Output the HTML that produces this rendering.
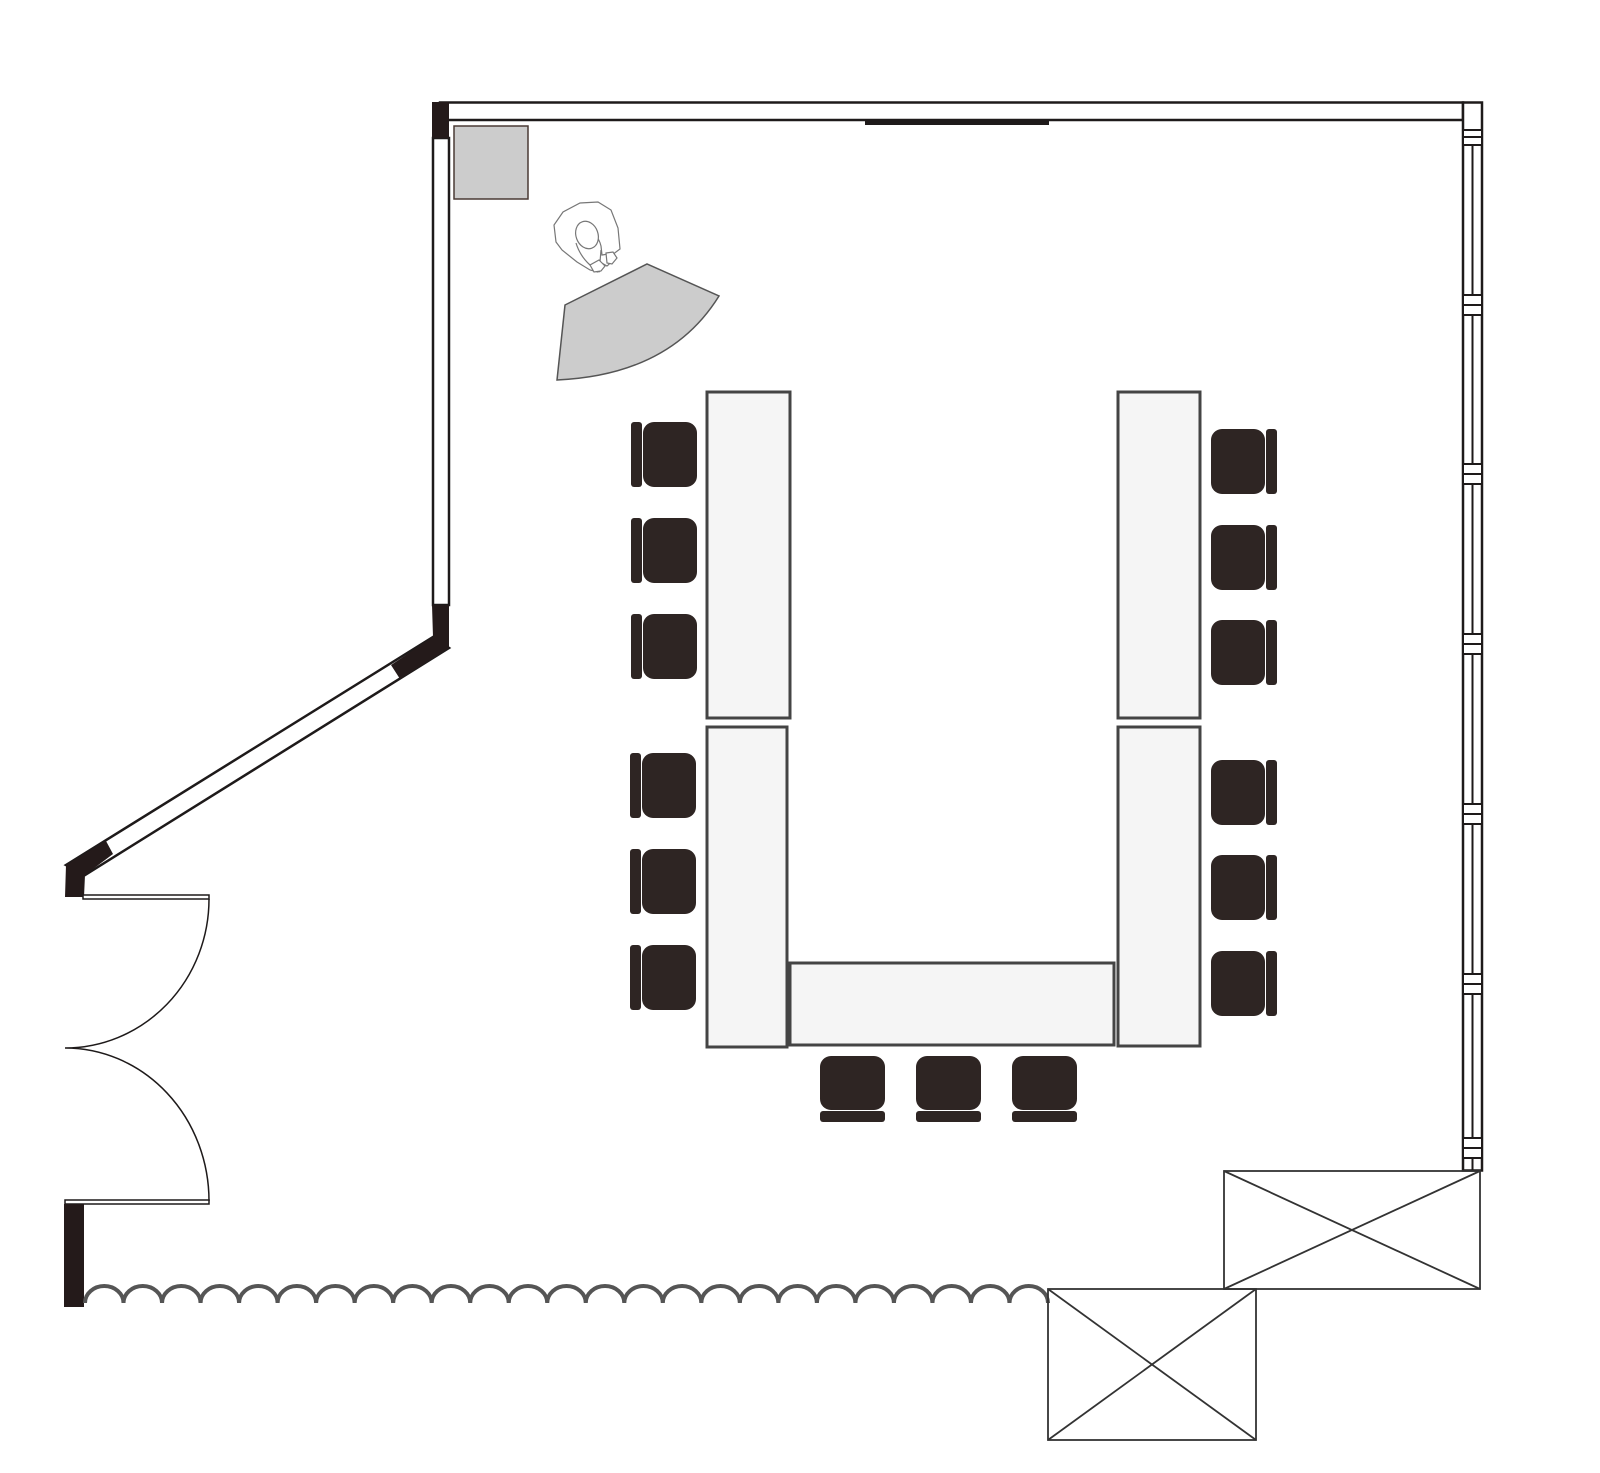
<!DOCTYPE html>
<html><head><meta charset="utf-8"><style>html,body{margin:0;padding:0;background:#fff}svg{display:block}</style></head>
<body>
<svg width="1600" height="1473" viewBox="0 0 1600 1473" xmlns="http://www.w3.org/2000/svg">
<rect width="1600" height="1473" fill="#fff"/>
<!-- top wall -->
<rect x="440" y="102.5" width="1023" height="17.5" fill="#fff" stroke="#1e1a1a" stroke-width="2.5"/>
<rect x="865" y="120" width="184" height="5" fill="#1e1a1a"/>
<!-- right wall -->
<rect x="1463" y="102.5" width="19" height="1068" fill="#fff" stroke="#1e1a1a" stroke-width="2.5"/>
<line x1="1472.5" y1="145" x2="1472.5" y2="1170" stroke="#1e1a1a" stroke-width="2"/>
<g fill="#fff" stroke="#1e1a1a" stroke-width="2">
<rect x="1463" y="130" width="19" height="7"/><rect x="1463" y="137" width="19" height="8"/>
<rect x="1463" y="295" width="19" height="10"/><rect x="1463" y="305" width="19" height="10"/>
<rect x="1463" y="464" width="19" height="10"/><rect x="1463" y="474" width="19" height="10"/>
<rect x="1463" y="634" width="19" height="10"/><rect x="1463" y="644" width="19" height="10"/>
<rect x="1463" y="804" width="19" height="10"/><rect x="1463" y="814" width="19" height="10"/>
<rect x="1463" y="974" width="19" height="10"/><rect x="1463" y="984" width="19" height="10"/>
<rect x="1463" y="1138" width="19" height="10"/><rect x="1463" y="1148" width="19" height="10"/>
</g>
<!-- left wall -->
<rect x="433" y="138" width="16" height="467" fill="#fff" stroke="#1e1a1a" stroke-width="2.5"/>
<rect x="432" y="102" width="17" height="36" fill="#241a1a"/>
<!-- diagonal wall -->
<polygon points="433,637 449,648 85,875 66,865" fill="#fff" stroke="#1e1a1a" stroke-width="2.5"/>
<polygon points="432,605 449,605 449,648 400,679 391,665 433,637" fill="#241a1a"/>
<polygon points="66,865 106,841 113,854 85,875 84,897 65,897" fill="#241a1a"/>
<!-- doors -->
<rect x="83" y="895" width="126" height="4" fill="#fff" stroke="#1e1a1a" stroke-width="1.5"/>
<path d="M209,899 A144,149 0 0 1 65,1048 A144,153 0 0 1 209,1201" fill="none" stroke="#1e1a1a" stroke-width="1.5"/>
<rect x="65" y="1200" width="144" height="4" fill="#fff" stroke="#1e1a1a" stroke-width="1.5"/>
<rect x="64" y="1204" width="20" height="103" fill="#241a1a"/>
<!-- curtain -->
<path fill="none" stroke="#555" stroke-width="4" d="M85,1303
a19.26,17 0 0 1 38.52,0 a19.26,17 0 0 1 38.52,0 a19.26,17 0 0 1 38.52,0 a19.26,17 0 0 1 38.52,0 a19.26,17 0 0 1 38.52,0
a19.26,17 0 0 1 38.52,0 a19.26,17 0 0 1 38.52,0 a19.26,17 0 0 1 38.52,0 a19.26,17 0 0 1 38.52,0 a19.26,17 0 0 1 38.52,0
a19.26,17 0 0 1 38.52,0 a19.26,17 0 0 1 38.52,0 a19.26,17 0 0 1 38.52,0 a19.26,17 0 0 1 38.52,0 a19.26,17 0 0 1 38.52,0
a19.26,17 0 0 1 38.52,0 a19.26,17 0 0 1 38.52,0 a19.26,17 0 0 1 38.52,0 a19.26,17 0 0 1 38.52,0 a19.26,17 0 0 1 38.52,0
a19.26,17 0 0 1 38.52,0 a19.26,17 0 0 1 38.52,0 a19.26,17 0 0 1 38.52,0 a19.26,17 0 0 1 38.52,0 a19.26,17 0 0 1 38.52,0"/>
<!-- X boxes -->
<g fill="none" stroke="#333" stroke-width="1.8">
<rect x="1224" y="1171" width="256" height="118"/>
<line x1="1224" y1="1171" x2="1480" y2="1289"/><line x1="1480" y1="1171" x2="1224" y2="1289"/>
<rect x="1048" y="1289" width="208" height="151"/>
<line x1="1048" y1="1289" x2="1256" y2="1440"/><line x1="1256" y1="1289" x2="1048" y2="1440"/>
</g>
<!-- gray square + desk -->
<rect x="454" y="126" width="74" height="73" fill="#ccc" stroke="#4a3a35" stroke-width="1.5"/>
<path d="M565,305 L647,264 L719,296 Q670,375 557,380 Z" fill="#ccc" stroke="#555" stroke-width="1.5"/>
<!-- person -->
<g fill="#fff" stroke="#777" stroke-width="1.2">
<path d="M556,242 L554,225 L563,212 L580,203 L598,202 L611,210 L618,228 L620,249 L604,261 L598,272 L590,270 L577,262 L562,250 Z"/>
<path d="M583,226 Q598,233 601,246 L602,255 L608,254 Q613,262 607,266 L600,262 L601,250 M576,243 Q580,256 590,265 L600,272"/>
<ellipse cx="587" cy="235" rx="11" ry="14" transform="rotate(-20 587 235)"/>
<path d="M590,265 L594,272 L601,271 L605,266 L599,260 Z"/>
<path d="M606,253 L613,252 L617,258 L612,264 L607,263 Z"/>
</g>
<!-- tables -->
<g fill="#f5f5f5" stroke="#444" stroke-width="3">
<rect x="707" y="392" width="83" height="326"/>
<rect x="707" y="727" width="80" height="320"/>
<rect x="790" y="963" width="324" height="82"/>
<rect x="1118" y="392" width="82" height="326"/>
<rect x="1118" y="727" width="82" height="319"/>
</g>
<g fill="#2e2523">
<rect x="631" y="422" width="11" height="65" rx="3"/><rect x="643" y="422" width="54" height="65" rx="11"/>
<rect x="631" y="518" width="11" height="65" rx="3"/><rect x="643" y="518" width="54" height="65" rx="11"/>
<rect x="631" y="614" width="11" height="65" rx="3"/><rect x="643" y="614" width="54" height="65" rx="11"/>
<rect x="630" y="753" width="11" height="65" rx="3"/><rect x="642" y="753" width="54" height="65" rx="11"/>
<rect x="630" y="849" width="11" height="65" rx="3"/><rect x="642" y="849" width="54" height="65" rx="11"/>
<rect x="630" y="945" width="11" height="65" rx="3"/><rect x="642" y="945" width="54" height="65" rx="11"/>
<rect x="1266" y="429" width="11" height="65" rx="3"/><rect x="1211" y="429" width="54" height="65" rx="11"/>
<rect x="1266" y="525" width="11" height="65" rx="3"/><rect x="1211" y="525" width="54" height="65" rx="11"/>
<rect x="1266" y="620" width="11" height="65" rx="3"/><rect x="1211" y="620" width="54" height="65" rx="11"/>
<rect x="1266" y="760" width="11" height="65" rx="3"/><rect x="1211" y="760" width="54" height="65" rx="11"/>
<rect x="1266" y="855" width="11" height="65" rx="3"/><rect x="1211" y="855" width="54" height="65" rx="11"/>
<rect x="1266" y="951" width="11" height="65" rx="3"/><rect x="1211" y="951" width="54" height="65" rx="11"/>
<rect x="820" y="1056" width="65" height="54" rx="11"/><rect x="820" y="1111" width="65" height="11" rx="3"/>
<rect x="916" y="1056" width="65" height="54" rx="11"/><rect x="916" y="1111" width="65" height="11" rx="3"/>
<rect x="1012" y="1056" width="65" height="54" rx="11"/><rect x="1012" y="1111" width="65" height="11" rx="3"/>
</g>
</svg>
</body></html>
